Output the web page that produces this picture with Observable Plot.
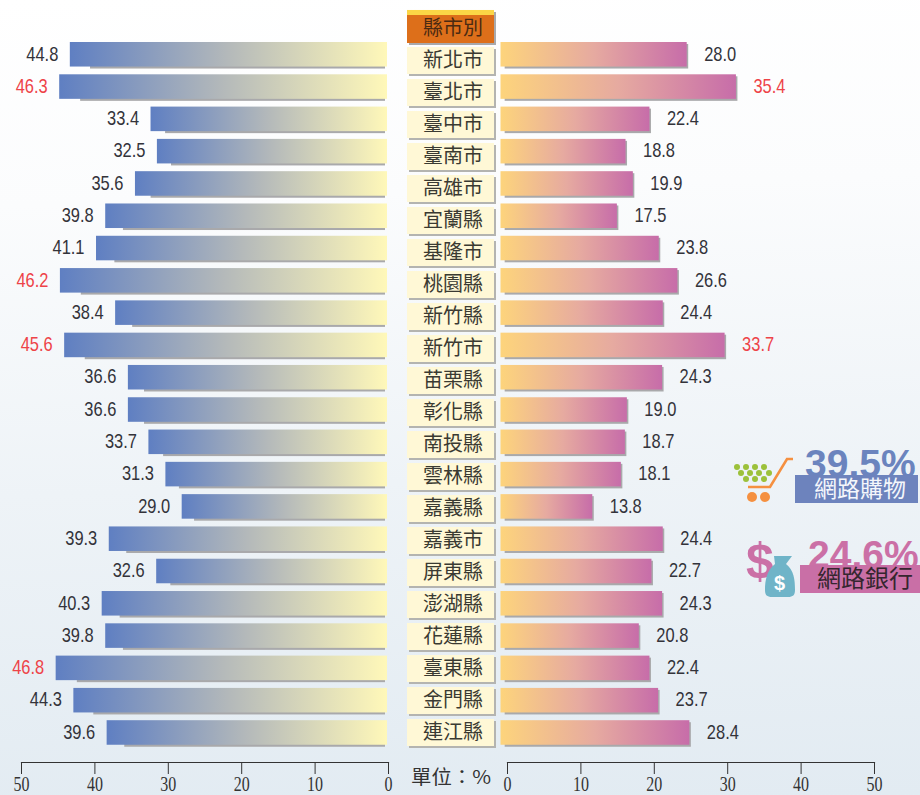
<!DOCTYPE html>
<html lang="zh-Hant">
<head>
<meta charset="utf-8">
<script src="https://cdn.jsdelivr.net/npm/d3@7"></script>
<script src="https://cdn.jsdelivr.net/npm/@observablehq/plot@0.6"></script>
<style>
html,body{margin:0;padding:0;}
#stage{position:relative;width:920px;height:795px;overflow:hidden;
  background:linear-gradient(178deg,#ffffff 0%,#fbfcfd 25%,#eef3f7 60%,#e2ebf2 100%);}
#stage svg{position:absolute;left:0;top:0;}
</style>
</head>
<body>
<div id="stage"></div>
<script>
const counties = ["新北市","臺北市","臺中市","臺南市","高雄市","宜蘭縣","基隆市","桃園縣","新竹縣","新竹市","苗栗縣","彰化縣","南投縣","雲林縣","嘉義縣","嘉義市","屏東縣","澎湖縣","花蓮縣","臺東縣","金門縣","連江縣"];
const onlineShopping = [44.8,46.3,33.4,32.5,35.6,39.8,41.1,46.2,38.4,45.6,36.6,36.6,33.7,31.3,29.0,39.3,32.6,40.3,39.8,46.8,44.3,39.6];
const onlineBanking = [28.0,35.4,22.4,18.8,19.9,17.5,23.8,26.6,24.4,33.7,24.3,19.0,18.7,18.1,13.8,24.4,22.7,24.3,20.8,22.4,23.7,28.4];
const shoppingHighlighted = ["臺北市","桃園縣","新竹市","臺東縣"];
const bankingHighlighted = ["臺北市","新竹市"];
const headerLabel = "縣市別";
const axisTicks = [0,10,20,30,40,50];
const unitLabel = "單位：%";
const summary = [
  {value:"39.5%", label:"網路購物"},
  {value:"24.6%", label:"網路銀行"}
];

const W = 920, H = 795;
const stage = document.getElementById("stage");
const SANS = "'Liberation Sans',sans-serif";
const CJK = "'Noto Sans CJK TC','Noto Sans',sans-serif";
const RED = "#ee4348", INK = "#33333a";

const toRows = (vals, hi) => counties.map((c,i) => ({county:c, value:vals[i], label:vals[i].toFixed(1), color:hi.includes(c)?RED:INK}));
const shoppingRows = toRows(onlineShopping, shoppingHighlighted);
const bankingRows = toRows(onlineBanking, bankingHighlighted);

function gradient(id, stops){
  return () => {
    const defs = d3.create("svg:defs");
    const g = defs.append("linearGradient").attr("id", id);
    stops.forEach(([o,c]) => g.append("stop").attr("offset", o).attr("stop-color", c));
    return defs.node();
  };
}
// the reference's digits are condensed: squeeze each text to a width per character
function condense(plot, perChar){
  d3.select(plot).selectAll("text").each(function(){
    const n = this.textContent.length;
    this.setAttribute("textLength", n*perChar);
    this.setAttribute("lengthAdjust","spacingAndGlyphs");
  });
  return plot;
}

const rowY = {domain:counties, range:[34.25,752.5], padding:0.24, round:false, axis:null};
const base = {width:W, height:H, style:{background:"transparent"}, color:{type:"identity"}};

// left bars
stage.append(condense(Plot.plot({...base,
  marginLeft:33, marginRight:W-387, marginTop:0, marginBottom:0,
  x:{domain:[50,0], axis:null}, y:rowY,
  marks:[
    gradient("gl",[["0%","#5f7fc2"],["50%","#b4b9ba"],["100%","#fff8b9"]]),
    Plot.barX(shoppingRows,{x1:0, x2:d=>d.value*0.93, y:"county", fill:"#a9a9ab", dx:-2, dy:2}),
    Plot.barX(shoppingRows,{x1:0, x2:"value", y:"county", fill:"url(#gl)"}),
    Plot.text(shoppingRows,{x:"value", y:"county", text:"label", fill:"color", textAnchor:"end", dx:-12, dy:-1, fontSize:21, fontFamily:SANS})
  ]}), 8));

// right bars
stage.append(condense(Plot.plot({...base,
  marginLeft:500.5, marginRight:W-833, marginTop:0, marginBottom:0,
  x:{domain:[0,50], axis:null}, y:rowY,
  marks:[
    gradient("gr",[["0%","#fdd47c"],["50%","#e6aaa0"],["100%","#c76da9"]]),
    Plot.barX(bankingRows,{x1:0.4, x2:"value", y:"county", fill:"#a9a9ab", dx:1.5, dy:2}),
    Plot.barX(bankingRows,{x1:0, x2:"value", y:"county", fill:"url(#gr)"}),
    Plot.text(bankingRows,{x:"value", y:"county", text:"label", fill:"color", textAnchor:"start", dx:17, dy:-1, fontSize:21, fontFamily:SANS})
  ]}), 8));

// centre column of names
const columnRows = [headerLabel, ...counties];
stage.append(Plot.plot({...base,
  marginLeft:407, marginRight:W-494, marginTop:0, marginBottom:0,
  x:{domain:[0,1], axis:null},
  y:{domain:columnRows, range:[10,751], padding:0.156, round:false, axis:null},
  marks:[
    Plot.barX(counties,{x1:0, x2:1, y:d=>d, fill:"#b4b4b0", dx:2, dy:2}),
    Plot.barX(counties,{x1:0, x2:1, y:d=>d, fill:"#fff8d6"}),
    Plot.barX([headerLabel],{x1:0, x2:1, y:d=>d, fill:"#a9a9ab", dx:2, dy:2, insetTop:-5, insetBottom:-1}),
    Plot.barX([headerLabel],{x1:0, x2:1, y:d=>d, fill:"#dd6f1a", insetTop:-5, insetBottom:-1}),
    Plot.barX([headerLabel],{x1:0, x2:1, y:d=>d, fill:"#fbd646", insetTop:-5, insetBottom:27}),
    Plot.text(columnRows,{x:0.5, y:d=>d, text:d=>d, fill:d=>d===headerLabel?"#4a2a12":"#3a3a32", dx:2, fontSize:20, fontFamily:CJK})
  ]}));

// axes
const axisPlot = (domain, left, right) => condense(Plot.plot({...base,
  marginLeft:left, marginRight:W-right, marginTop:0, marginBottom:33,
  x:{domain, axis:null},
  marks:[
    Plot.frame({anchor:"bottom", stroke:"#333", strokeWidth:1.2}),
    Plot.axisX({ticks:axisTicks, anchor:"bottom", tickSize:12, tickPadding:2, stroke:"#333", strokeWidth:1,
      fontSize:20, fontFamily:"'Liberation Serif',serif", fill:"#333", label:null})
  ]}), 8);
stage.append(axisPlot([50,0],21,388));
stage.append(axisPlot([0,50],507,874));

// unit label and the two summary call-outs
const svg = d3.select(stage).append("svg").attr("width",W).attr("height",H);
svg.append("text").attr("x",451).attr("y",784).attr("text-anchor","middle")
  .attr("font-family",CJK).attr("font-size",19).attr("fill","#333")
  .attr("textLength",80).attr("lengthAdjust","spacingAndGlyphs").text(unitLabel);

// cart icon
const cart = svg.append("g");
[[737,467],[746,467],[755,467],[764,467],[741,473],[750,473],[759,473],[769,473],[746,479],[755,479],[764,479]]
  .forEach(([x,y]) => cart.append("circle").attr("cx",x).attr("cy",y).attr("r",3).attr("fill","#9cc13a"));
cart.append("path").attr("d","M793,459H787L770,487H748").attr("fill","none").attr("stroke","#f59040").attr("stroke-width",2.6);
[752,765].forEach(x => cart.append("circle").attr("cx",x).attr("cy",497).attr("r",5).attr("fill","#f59040"));

// shopping call-out
svg.append("text").attr("x",805).attr("y",477).attr("font-family",SANS).attr("font-weight",700)
  .attr("font-size",39).attr("fill","#6b84be").text(summary[0].value);
svg.append("rect").attr("x",795).attr("y",475).attr("width",123).attr("height",28).attr("fill","#6d83bd");
svg.append("text").attr("x",860).attr("y",497).attr("text-anchor","middle").attr("font-family",CJK)
  .attr("font-size",23).attr("fill","#f4f6fb").text(summary[0].label);

// money icon
svg.append("text").attr("x",746).attr("y",578).attr("font-family",SANS).attr("font-weight",700)
  .attr("font-size",50).attr("fill","#cb70a6").text("$");
svg.append("path").attr("d","M774,556H792L786,564C794,570 795,580 795,590C795,595 793,597 788,597H772C767,597 765,595 765,590C765,580 767,570 775,564Z").attr("fill","#6fb4c8");
svg.append("text").attr("x",779.5).attr("y",590).attr("text-anchor","middle").attr("font-family",SANS)
  .attr("font-weight",700).attr("font-size",20).attr("fill","#fff").text("$");

// banking call-out
svg.append("text").attr("x",808).attr("y",568).attr("font-family",SANS).attr("font-weight",700)
  .attr("font-size",39).attr("fill","#cb70a6").text(summary[1].value);
svg.append("rect").attr("x",800).attr("y",565).attr("width",120).attr("height",28).attr("fill","#c96fa6");
svg.append("text").attr("x",865).attr("y",587).attr("text-anchor","middle").attr("font-family",CJK)
  .attr("font-size",24).attr("fill","#35262f").text(summary[1].label);
</script>
</body>
</html>
